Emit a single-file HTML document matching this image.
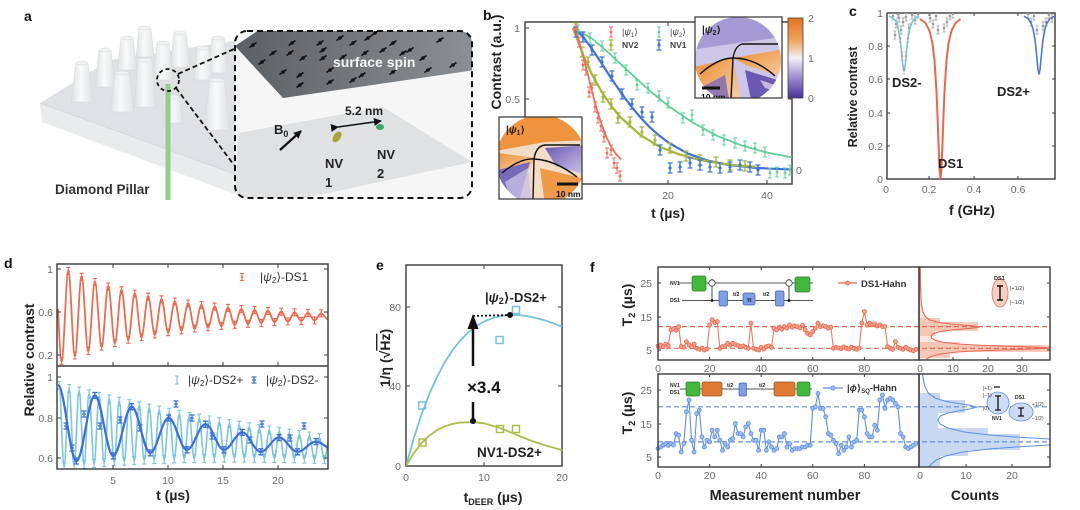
<!DOCTYPE html>
<html><head><meta charset="utf-8"><style>
html,body{margin:0;padding:0;background:#fff;}
svg{display:block;font-family:"Liberation Sans","DejaVu Sans",sans-serif;}
.tk{font-size:10.5px;fill:#6a6a6a;}
.al{font-size:14px;font-weight:bold;fill:#222;}
.pl{font-size:14px;font-weight:bold;fill:#111;}
.ax{fill:none;stroke:#3a3a3a;stroke-width:1.4;}
.ti{fill:none;stroke:#3a3a3a;stroke-width:1;}
</style></head><body>
<svg width="1080" height="510" viewBox="0 0 1080 510" xmlns="http://www.w3.org/2000/svg">
<defs>
<linearGradient id="pg" x1="0" x2="1" y1="0" y2="0"><stop offset="0" stop-color="#dcdfe3"/><stop offset="0.45" stop-color="#f8f9fa"/><stop offset="1" stop-color="#dfe2e6"/></linearGradient>
<linearGradient id="dp" x1="0" x2="1" y1="0" y2="0"><stop offset="0" stop-color="#5c6064"/><stop offset="1" stop-color="#8c9094"/></linearGradient>
<linearGradient id="cbg" x1="0" y1="0" x2="0" y2="1"><stop offset="0" stop-color="#df7417"/><stop offset="0.3" stop-color="#f0aa66"/><stop offset="0.5" stop-color="#f4f0f5"/><stop offset="0.72" stop-color="#a597d5"/><stop offset="1" stop-color="#4a2f98"/></linearGradient>
<linearGradient id="og" x1="0" y1="0" x2="1" y2="1"><stop offset="0" stop-color="#ec8a2e"/><stop offset="1" stop-color="#f7d3ad"/></linearGradient>
<linearGradient id="pu" x1="0" y1="0" x2="1" y2="1"><stop offset="0" stop-color="#6a55b2"/><stop offset="1" stop-color="#d8d2ee"/></linearGradient>
<clipPath id="boxA"><rect x="235" y="31" width="237" height="167" rx="12"/></clipPath>
<clipPath id="c2c"><circle cx="738" cy="60" r="43"/></clipPath>
<clipPath id="c2r"><rect x="695" y="17" width="87" height="81"/></clipPath>
<clipPath id="c1c"><circle cx="541" cy="160" r="45"/></clipPath>
<clipPath id="c1r"><rect x="499" y="117" width="83" height="82"/></clipPath>
<clipPath id="cb"><rect x="525" y="22" width="267" height="162"/></clipPath>
<clipPath id="cc"><rect x="887" y="13" width="168" height="166"/></clipPath>
<clipPath id="cdt"><rect x="57" y="264" width="271" height="102"/></clipPath>
<clipPath id="cdb"><rect x="57" y="366" width="271" height="103"/></clipPath>
<clipPath id="ce"><rect x="406" y="265" width="156" height="201"/></clipPath>
<clipPath id="cft"><rect x="919" y="267" width="131" height="93"/></clipPath>
<clipPath id="cfb"><rect x="919" y="374" width="131" height="93"/></clipPath>
<g id="sp"><line x1="-3.5" y1="2.5" x2="3.5" y2="-2.5" stroke="#111" stroke-width="1.6"/><circle r="1.8" fill="#111"/></g>
<marker id="eR" markerUnits="userSpaceOnUse" markerWidth="10" markerHeight="10" viewBox="-5 -5 10 10" refX="0" refY="0" overflow="visible"><path d="M-2,-3.5H2M0,-3.5V3.5M-2,3.5H2M-1.5,0H1.5" stroke="#ee6a4e" stroke-width="1.1" fill="none"/></marker>
<marker id="eC" markerUnits="userSpaceOnUse" markerWidth="10" markerHeight="10" viewBox="-5 -5 10 10" refX="0" refY="0" overflow="visible"><path d="M-2,-4H2M0,-4V4M-2,4H2" stroke="#79c6de" stroke-width="1.1" fill="none"/></marker>
<marker id="eB" markerUnits="userSpaceOnUse" markerWidth="10" markerHeight="10" viewBox="-5 -5 10 10" refX="0" refY="0" overflow="visible"><path d="M-2.5,-3H2.5M0,-3V3M-2.5,3H2.5M-2,0H2" stroke="#3d6fda" stroke-width="1.3" fill="none"/></marker>
<marker id="bR" markerUnits="userSpaceOnUse" markerWidth="10" markerHeight="14" viewBox="-5 -7 10 14" refX="0" refY="0" overflow="visible"><path d="M-2,-5H2M0,-5V5M-2,5H2" stroke="#ec6f5a" stroke-width="1" fill="none"/><circle r="1.4" fill="#ec6f5a"/></marker>
<marker id="bG" markerUnits="userSpaceOnUse" markerWidth="10" markerHeight="14" viewBox="-5 -7 10 14" refX="0" refY="0" overflow="visible"><path d="M-2,-5H2M0,-5V5M-2,5H2" stroke="#5fd09c" stroke-width="1" fill="none"/><circle r="1.4" fill="#5fd09c"/></marker>
<marker id="bY" markerUnits="userSpaceOnUse" markerWidth="10" markerHeight="14" viewBox="-5 -7 10 14" refX="0" refY="0" overflow="visible"><path d="M-2.5,-5H2.5M0,-5V5M-2.5,5H2.5" stroke="#a4b63a" stroke-width="1.3" fill="none"/><circle r="1.6" fill="#a4b63a"/></marker>
<marker id="bB" markerUnits="userSpaceOnUse" markerWidth="10" markerHeight="14" viewBox="-5 -7 10 14" refX="0" refY="0" overflow="visible"><path d="M-2.5,-5H2.5M0,-5V5M-2.5,5H2.5" stroke="#3f72d4" stroke-width="1.3" fill="none"/><circle r="1.6" fill="#3f72d4"/></marker>
<marker id="gD" markerUnits="userSpaceOnUse" markerWidth="8" markerHeight="12" viewBox="-4 -6 8 12" refX="0" refY="0" overflow="visible"><path d="M-1.5,-4H1.5M0,-4V4M-1.5,4H1.5" stroke="#aaa" stroke-width="0.9" fill="none"/><circle r="1.3" fill="#9a9a9a"/></marker>
<marker id="fR" markerUnits="userSpaceOnUse" markerWidth="6" markerHeight="6" viewBox="-3 -3 6 6" refX="0" refY="0" overflow="visible"><circle r="2" fill="#f4a08a" stroke="#e8674f" stroke-width="0.8"/></marker>
<marker id="fB" markerUnits="userSpaceOnUse" markerWidth="6" markerHeight="6" viewBox="-3 -3 6 6" refX="0" refY="0" overflow="visible"><circle r="2" fill="#9dbcf0" stroke="#5d8fe3" stroke-width="0.8"/></marker>
<marker id="ah" markerUnits="userSpaceOnUse" markerWidth="8" markerHeight="8" viewBox="0 0 8 8" refX="7" refY="4" orient="auto"><path d="M0,0L8,4L0,8Z" fill="#111"/></marker>
</defs>

<!-- ================= PANEL A ================= -->
<text x="24" y="21" class="pl">a</text>
<polygon points="40,103 110,60 240,40 240,176" fill="#dfe1e4"/>
<polygon points="40,103 240,176 240,196 42,122" fill="#eaebed"/>
<line x1="40" y1="103" x2="240" y2="176" stroke="#d2d5d8" stroke-width="0.8"/>
<g stroke="#d6d9dc" stroke-width="0.5">
<path d="M139,28L151,28L154,57L136,57Z" fill="url(#pg)"/><ellipse cx="145" cy="28" rx="6" ry="2" fill="#f1f2f4"/>
<path d="M174,33L186,33L190,67L170,67Z" fill="url(#pg)"/><ellipse cx="180" cy="33" rx="6" ry="2" fill="#f1f2f4"/>
<path d="M121,38L133,38L137,70L117,70Z" fill="url(#pg)"/><ellipse cx="127" cy="38" rx="6" ry="2" fill="#f1f2f4"/>
<path d="M212,38L224,38L228,73L208,73Z" fill="url(#pg)"/><ellipse cx="218" cy="38" rx="6" ry="2" fill="#f1f2f4"/>
<path d="M157,43L169,43L173,80L153,80Z" fill="url(#pg)"/><ellipse cx="163" cy="43" rx="6" ry="2" fill="#f1f2f4"/>
<path d="M197,48L209,48L213,80L193,80Z" fill="url(#pg)"/><ellipse cx="203" cy="48" rx="6" ry="2" fill="#f1f2f4"/>
<path d="M99,50L111,50L115,87L95,87Z" fill="url(#pg)"/><ellipse cx="105" cy="50" rx="6" ry="2" fill="#f1f2f4"/>
<path d="M76,63L88,63L93,102L71,102Z" fill="url(#pg)"/><ellipse cx="82" cy="63" rx="6" ry="2" fill="#f1f2f4"/>
<path d="M167,97L179,97L183,123L163,123Z" fill="url(#pg)"/><ellipse cx="173" cy="97" rx="6" ry="2" fill="#f1f2f4"/>
<path d="M138,60L152,60L156,107L134,107Z" fill="url(#pg)"/><ellipse cx="145" cy="60" rx="7" ry="2" fill="#f1f2f4"/>
<path d="M115,73L129,73L134,112L110,112Z" fill="url(#pg)"/><ellipse cx="122" cy="73" rx="7" ry="2" fill="#f1f2f4"/>
<path d="M210,80L224,80L230,130L204,130Z" fill="url(#pg)"/><ellipse cx="217" cy="80" rx="7" ry="2" fill="#f1f2f4"/>
</g>
<line x1="168" y1="84" x2="168" y2="200" stroke="#8fcf86" stroke-width="5"/>
<circle cx="168" cy="80" r="11" fill="none" stroke="#111" stroke-width="1.8" stroke-dasharray="4,3"/>
<line x1="178" y1="74" x2="234" y2="49" stroke="#111" stroke-width="1.8" stroke-dasharray="5,3"/>
<line x1="176" y1="88" x2="234" y2="165" stroke="#111" stroke-width="1.8" stroke-dasharray="5,3"/>
<text x="55" y="194" font-size="13.5" font-weight="bold" fill="#333">Diamond Pillar</text>

<rect x="235" y="31" width="237" height="167" rx="12" fill="#f6f6f6"/>
<g clip-path="url(#boxA)">
<polygon points="238,133 383,107 472,162 300,199 235,199" fill="#e0e1e2"/>
<polygon points="235,46 262,28 475,28 475,70 283,98" fill="url(#dp)"/>
</g>
<use href="#sp" x="292" y="43"/><use href="#sp" x="320" y="43"/><use href="#sp" x="340" y="38"/><use href="#sp" x="353" y="43"/><use href="#sp" x="368" y="38"/><use href="#sp" x="375" y="33"/><use href="#sp" x="393" y="43"/><use href="#sp" x="273" y="53"/><use href="#sp" x="290" y="53"/><use href="#sp" x="303" y="58"/><use href="#sp" x="323" y="50"/><use href="#sp" x="323" y="58"/><use href="#sp" x="343" y="57"/><use href="#sp" x="365" y="53"/><use href="#sp" x="383" y="50"/><use href="#sp" x="403" y="53"/><use href="#sp" x="410" y="50"/><use href="#sp" x="423" y="58"/><use href="#sp" x="428" y="70"/><use href="#sp" x="453" y="65"/><use href="#sp" x="253" y="45"/><use href="#sp" x="283" y="72"/><use href="#sp" x="300" y="75"/><use href="#sp" x="330" y="70"/><use href="#sp" x="362" y="75"/><use href="#sp" x="393" y="72"/><use href="#sp" x="300" y="85"/><use href="#sp" x="330" y="82"/><use href="#sp" x="353" y="80"/><use href="#sp" x="440" y="40"/><use href="#sp" x="262" y="62"/>
<text x="333" y="67" font-size="14" font-weight="bold" fill="#f4f4f4">surface spin</text>
<rect x="235" y="31" width="237" height="167" rx="12" fill="none" stroke="#111" stroke-width="2" stroke-dasharray="6,4"/>
<text x="345" y="115" font-size="12" font-weight="bold" fill="#222">5.2 nm</text>
<line x1="338" y1="127" x2="381" y2="121" stroke="#111" stroke-width="1.6" marker-end="url(#ah)" marker-start="url(#ah)"/>
<text x="274" y="134" font-size="13" font-weight="bold" fill="#222">B<tspan font-size="9" dy="3">0</tspan></text>
<line x1="280" y1="150" x2="301" y2="131" stroke="#111" stroke-width="2.2" marker-end="url(#ah)"/>
<ellipse cx="337" cy="137" rx="3.5" ry="6" fill="#a6a337" transform="rotate(35 337 137)"/>
<ellipse cx="380" cy="127" rx="4" ry="3" fill="#3aaa62"/>
<text x="325" y="168" font-size="13" font-weight="bold" fill="#222">NV</text>
<text x="325" y="187" font-size="13" font-weight="bold" fill="#222">1</text>
<text x="377" y="159" font-size="13" font-weight="bold" fill="#222">NV</text>
<text x="377" y="178" font-size="13" font-weight="bold" fill="#222">2</text>

<!-- ================= PANEL B ================= -->
<text x="483" y="20" class="pl">b</text>
<rect x="525" y="22" width="267" height="162" class="ax"/>
<path class="ti" d="M525,28h4M525,99h4M525,170h4M792,28h-4M792,99h-4M792,170h-4M668,184v-4M767,184v-4M668,22v4M767,22v4"/>
<text x="520" y="32" class="tk" text-anchor="end">1</text>
<text x="520" y="103" class="tk" text-anchor="end">0.5</text>
<text x="796" y="174" class="tk">0</text>
<text x="668" y="199" class="tk" text-anchor="middle">20</text>
<text x="767" y="199" class="tk" text-anchor="middle">40</text>
<text transform="translate(501,62) rotate(-90)" class="al" text-anchor="middle">Contrast (a.u.)</text>
<text x="668" y="218" class="al" text-anchor="middle">t (µs)</text>
<g clip-path="url(#cb)" fill="none">
<polyline points="573,28 592.2,38.6 611.4,55.3 630.6,73.3 649.8,90.8 669,106.4 693,122.7 717,135.8 741,145.2 765,152.1 792.8,157.6" stroke="#5fd09c" stroke-width="1.8"/>
<polyline points="573,28 582.6,36.1 592.2,49.2 601.8,63.6 611.4,78.6 621,92.6 630.6,105.7 640.2,117.2 649.8,127.3 659.4,135.8 669,143 688.2,153.7 707.4,160.5 726.6,164.7 755.4,167.9 790,169.5" stroke="#3f72d4" stroke-width="2.2"/>
<polyline points="573,28 582.6,53.7 592.2,74.9 601.8,92 611.4,106.2 621,117.7 640.2,134.9 659.4,146.6 678.6,154.2 697.8,159.5 717,162.9 736.2,165.3 755.4,166.9" stroke="#a4b63a" stroke-width="2.2"/>
<polyline points="573,28 577.8,36.9 582.6,53.5 587.4,72.7 592.2,92.2 597,109.8 601.8,125 606.6,137.4 611.4,147 616.2,154.2 621,159.5" stroke="#ec6f5a" stroke-width="1.8"/>
<path d="M578,30L590,38L602,46L615,58L626,70L637,85L648,88L659,96L668,103L683,118L692,115L703,130L713,135L724,140L735,143L745,146L755,148L765,152L770,173L777,172L785,173L790,170" stroke="none" marker-start="url(#bG)" marker-mid="url(#bG)" marker-end="url(#bG)"/>
<path d="M576,28L582,52L588,62L595,80L603,97L611,104L618,118L630,122L642,132L655,140L670,148L686,156L700,160L716,162L730,165L745,166" stroke="none" marker-start="url(#bY)" marker-mid="url(#bY)" marker-end="url(#bY)"/>
<path d="M576,32L583,37L592,50L602,62L612,76L622,94L632,104L642,112L652,117L660,150L670,168L680,167L690,163L700,165L710,167L720,168L730,167L740,165L750,167L758,170" stroke="none" marker-start="url(#bB)" marker-mid="url(#bB)" marker-end="url(#bB)"/>
<path d="M576,30L579,42L583,65L586,70L589,92L592,88L595,107L598,118L601,126L604,137L607,153L611,150L614,163L617,168L620,176" stroke="none" marker-start="url(#bR)" marker-mid="url(#bR)" marker-end="url(#bR)"/>
</g>
<!-- legend b -->
<path d="M611,32h0" stroke="none" marker-start="url(#bR)"/><text x="622" y="35" font-size="9" fill="#444">|<tspan font-style="italic">ψ</tspan><tspan font-size="6" dy="2">1</tspan><tspan dy="-2">⟩</tspan></text>
<path d="M659,32h0" stroke="none" marker-start="url(#bG)"/><text x="670" y="35" font-size="9" fill="#444">|<tspan font-style="italic">ψ</tspan><tspan font-size="6" dy="2">2</tspan><tspan dy="-2">⟩</tspan></text>
<path d="M611,45h0" stroke="none" marker-start="url(#bY)"/><text x="622" y="48" font-size="8.5" font-weight="bold" fill="#444">NV2</text>
<path d="M659,45h0" stroke="none" marker-start="url(#bB)"/><text x="670" y="48" font-size="8.5" font-weight="bold" fill="#444">NV1</text>
<!-- inset psi2 -->
<rect x="695" y="17" width="87" height="81" fill="#fff"/>
<g clip-path="url(#c2r)"><g clip-path="url(#c2c)">
<rect x="690" y="10" width="100" height="95" fill="#cdc6e6"/>
<polygon points="690,15 790,15 790,36 745,42 690,50" fill="#9b8fd0" opacity="0.8"/>
<polygon points="733,58 790,48 790,80 748,66" fill="url(#og)"/>
<polygon points="690,68 733,58 742,105 690,105" fill="url(#og)"/>
<polygon points="700,88 725,75 730,105 705,105" fill="#7a66bb" opacity="0.8"/>
<polygon points="745,70 790,84 790,105 752,105" fill="#6b58b3"/>
<polygon points="760,80 790,90 790,95 765,88" fill="#e9e4f4" opacity="0.7"/>
</g>
<path d="M700,74Q718,58 733,58Q755,58 775,76M733,58Q735,46 742,44L778,44M733,58L731,98" fill="none" stroke="#111" stroke-width="1.4"/>
<line x1="702" y1="88" x2="720" y2="88" stroke="#111" stroke-width="3"/>
<text x="701" y="100" font-size="8.5" font-weight="bold" fill="#111">10 nm</text>
</g>
<text x="702" y="33" font-size="10" font-weight="bold" fill="#222">|<tspan font-style="italic">ψ</tspan><tspan font-size="7" dy="2">2</tspan><tspan dy="-2">⟩</tspan></text>
<rect x="695" y="17" width="87" height="81" fill="none" stroke="#333" stroke-width="1.2"/>
<rect x="788" y="18" width="15" height="80" fill="url(#cbg)" stroke="#444" stroke-width="0.8"/>
<text x="808" y="22" class="tk">2</text><text x="808" y="62" class="tk">1</text><text x="808" y="102" class="tk">0</text>
<!-- inset psi1 -->
<rect x="499" y="117" width="83" height="82" fill="#fff"/>
<g clip-path="url(#c1r)"><g clip-path="url(#c1c)">
<rect x="490" y="110" width="100" height="95" fill="#f3dcc6"/>
<polygon points="490,110 590,110 590,140 545,142 490,152" fill="#ee943e"/>
<polygon points="490,152 536,158 528,170 490,172" fill="url(#og)"/>
<polygon points="545,148 590,145 590,176 556,166" fill="url(#pu)"/>
<polygon points="490,172 530,162 518,205 490,205" fill="#7a68bb"/>
<polygon points="505,182 528,168 532,205 512,205" fill="#c8bfe5" opacity="0.8"/>
<polygon points="540,168 590,180 590,205 545,205" fill="#ef9a48"/>
</g>
<path d="M502,173Q520,158 534,159Q555,160 577,177M534,159Q536,146 545,145L580,145M534,159L533,199" fill="none" stroke="#111" stroke-width="1.4"/>
<line x1="557" y1="184" x2="578" y2="184" stroke="#111" stroke-width="3"/>
<text x="556" y="197" font-size="8.5" font-weight="bold" fill="#111">10 nm</text>
</g>
<text x="506" y="133" font-size="10" font-weight="bold" fill="#222">|<tspan font-style="italic">ψ</tspan><tspan font-size="7" dy="2">1</tspan><tspan dy="-2">⟩</tspan></text>
<rect x="499" y="117" width="83" height="82" fill="none" stroke="#333" stroke-width="1.2"/>

<!-- ================= PANEL C ================= -->
<text x="849" y="16" class="pl">c</text>
<rect x="887" y="13" width="168" height="166" class="ax"/>
<path class="ti" d="M887,46h3M887,79h3M887,113h3M887,146h3M1055,46h-3M1055,79h-3M1055,113h-3M1055,146h-3M929,179v-3M974,179v-3M1018,179v-3M929,13v3M974,13v3M1018,13v3"/>
<text x="883" y="17" class="tk" text-anchor="end">1</text>
<text x="883" y="50" class="tk" text-anchor="end">0.8</text>
<text x="883" y="83" class="tk" text-anchor="end">0.6</text>
<text x="883" y="117" class="tk" text-anchor="end">0.4</text>
<text x="883" y="150" class="tk" text-anchor="end">0.2</text>
<text x="883" y="183" class="tk" text-anchor="end">0</text>
<text x="886" y="193" class="tk" text-anchor="middle">0</text>
<text x="929" y="193" class="tk" text-anchor="middle">0.2</text>
<text x="974" y="193" class="tk" text-anchor="middle">0.4</text>
<text x="1018" y="193" class="tk" text-anchor="middle">0.6</text>
<text transform="translate(857,97) rotate(-90)" font-size="12.5" font-weight="bold" fill="#222" text-anchor="middle">Relative contrast</text>
<text x="972" y="215" class="al" text-anchor="middle">f (GHz)</text>
<g clip-path="url(#cc)" fill="none">
<path d="M893,16L896,24L899,18L901,30L903,22L906,17L909,28L912,15L915,20L918,14L895,35L898,14L930,18L933,24L936,16L947,22L950,16L953,14L944,28L938,30L1028,14L1031,22L1034,16L1046,22L1049,15L1052,18L1037,30L1043,26" stroke="none" marker-start="url(#gD)" marker-mid="url(#gD)" marker-end="url(#gD)"/>
<polyline points="889,16 893,18.3 897,22.3 898,27.8 900,38.2 901,46.5 902,56.8 903,66.8 904,71.1 905,66.8 906,56.8 907,46.5 908,38.2 910,27.8 912,22.3 915,18.3 919,16" stroke="#7fc3d4" stroke-width="1.6"/>
<polyline points="920,19 925.5,23 929.5,30.8 932.5,43.5 934.5,60.5 936.5,91.7 937.5,115.3 938.5,143 939.5,168.2 940.5,179 941.5,168.2 942.5,143 943.5,115.3 944.5,91.7 946.5,60.5 948.5,43.5 951.5,30.8 955.5,23 960.5,19" stroke="#e8674f" stroke-width="2"/>
<polyline points="1024,16.2 1028,18.6 1031,23 1033,28.6 1035,39.7 1036,48.4 1037,59.3 1038,69.8 1039,74.4 1040,69.8 1041,59.3 1042,48.4 1043,39.7 1045,28.6 1047,23 1050,18.6 1054,16.2" stroke="#4b78d8" stroke-width="1.6"/>
<path d="M900,38L902,56L904,70L906,56L908,38" stroke="none" marker-start="url(#gD)" marker-mid="url(#gD)" marker-end="url(#gD)" opacity="0.7"/>
</g>
<text x="892" y="87" font-size="13" font-weight="bold" fill="#222">DS2-</text>
<text x="938" y="168" font-size="13" font-weight="bold" fill="#222">DS1</text>
<text x="997" y="96" font-size="13" font-weight="bold" fill="#222">DS2+</text>

<!-- ================= PANEL D ================= -->
<text x="4" y="268" class="pl">d</text>
<g fill="none" stroke-linejoin="round">
<g clip-path="url(#cdt)">
<path d="M58,309C59,330 60.4,360.9 61.6,360.9C64,360.9 65.9,271 68.3,271S72.5,355.5 74.9,355.5S79.2,276.8 81.6,276.8S85.85,350.8 88.25,350.8S92.5,282 94.9,282S99.2,346.6 101.6,346.6S105.8,286.4 108.2,286.4S112.5,342.9 114.9,342.9S119.1,290.3 121.5,290.3S125.8,339.7 128.2,339.7S132.4,293.7 134.8,293.7S139.1,336.9 141.5,336.9S145.7,296.7 148.1,296.7S152.4,334.4 154.8,334.4S159.1,299.3 161.5,299.3S165.7,332.2 168.1,332.2S172.4,301.6 174.8,301.6S179,330.3 181.4,330.3S185.7,303.5 188.1,303.5S192.3,328.6 194.7,328.6S199,305.1 201.4,305.1S205.6,327.2 208,327.2S212.3,306.6 214.7,306.6S219,325.9 221.4,325.9S225.6,307.9 228,307.9S232.3,324.8 234.7,324.8S238.9,309.1 241.3,309.1S245.6,323.8 248,323.8S252.2,310.1 254.6,310.1S258.9,322.9 261.3,322.9S265.5,310.9 267.9,310.9S272.2,322.1 274.6,322.1S278.8,311.7 281.2,311.7S285.5,321.5 287.9,321.5S292.2,312.3 294.6,312.3S298.8,320.9 301.2,320.9S305.5,312.9 307.9,312.9S312.1,320.4 314.5,320.4S318.8,313.4 321.2,313.4S326,320 328.6,319.8" stroke="#ee6a4e" stroke-width="1.8" marker-mid="url(#eR)"/>
</g>
<g clip-path="url(#cdb)">
<path d="M58,386L59.1,385.5C60.9,385.5 62.3,466.5 64.1,466.5S67.3,388.5 69.1,388.5S72.3,465.4 74.1,465.4S77.3,391.1 79.1,391.1S82.3,464.4 84.1,464.4S87.3,393.8 89.1,393.8S92.3,463.4 94.1,463.4S97.3,396.4 99.1,396.4S102.3,462.6 104.1,462.6S107.4,398.9 109.2,398.9S112.4,461.9 114.2,461.9S117.4,401.3 119.2,401.3S122.4,461.2 124.2,461.2S127.4,403.7 129.2,403.7S132.4,460.6 134.2,460.6S137.4,405.9 139.2,405.9S142.4,460.1 144.2,460.1S147.4,408.1 149.2,408.1S152.4,459.6 154.2,459.6S157.4,410.2 159.2,410.2S162.4,459.3 164.2,459.3S167.4,412.3 169.2,412.3S172.4,458.9 174.2,458.9S177.4,414.3 179.2,414.3S182.4,458.7 184.2,458.7S187.4,416.3 189.2,416.3S192.4,458.5 194.2,458.5S197.4,418.1 199.2,418.1S202.4,458.3 204.2,458.3S207.5,420 209.3,420S212.5,458.2 214.3,458.2S217.5,421.8 219.3,421.8S222.5,458.1 224.3,458.1S227.5,423.6 229.3,423.6S232.5,458.1 234.3,458.1S237.5,425.3 239.3,425.3S242.5,458.1 244.3,458.1S247.5,426.9 249.3,426.9S252.5,458.2 254.3,458.2S257.5,428.6 259.3,428.6S262.5,458.3 264.3,458.3S267.5,430.1 269.3,430.1S272.5,458.4 274.3,458.4S277.5,431.7 279.3,431.7S282.5,458.6 284.3,458.6S287.5,433.2 289.3,433.2S292.5,458.8 294.3,458.8S297.5,434.7 299.3,434.7S302.5,459.1 304.3,459.1S307.6,436.1 309.4,436.1S312.6,459.3 314.4,459.3S317.6,437.6 319.4,437.6S322.6,459.6 324.4,459.6S327.6,438.5 329.4,438.5" stroke="#79c6de" stroke-width="1.6" marker-mid="url(#eC)"/>
<path d="M58,385.2C64.7,385.2 69.7,461 76.4,461S88.15,395.5 94.85,395.5S106.6,455.9 113.3,455.9S125,406.7 131.7,406.7S143.5,452.9 150.2,452.9S161.9,418 168.6,418S180.3,449.8 187,449.8S198.7,424.2 205.4,424.2S217.2,449.8 223.9,449.8S235.6,432.4 242.3,432.4S254,451.8 260.7,451.8S272.4,437.5 279.1,437.5S290.9,451.8 297.6,451.8S309.3,441.6 316,441.6S326,449 332,449" stroke="#3d6fda" stroke-width="2.2" marker-mid="url(#eB)"/>
<path d="M66,426L72,448L84,414L100,426L120,420L140,428L176,404L192,418L212,436L250,440L262,424L290,438L304,426" stroke="none" marker-start="url(#eB)" marker-mid="url(#eB)" marker-end="url(#eB)"/>
</g>
</g>
<rect x="57" y="264" width="271" height="205" class="ax"/>
<line x1="57" y1="366" x2="328" y2="366" stroke="#3a3a3a" stroke-width="1.6"/>
<path class="ti" d="M57,269h4M57,312h4M57,355h4M328,269h-4M328,312h-4M328,355h-4M57,377h4M57,418h4M57,458h4M328,377h-4M328,418h-4M328,458h-4M113,469v-4M168,469v-4M223,469v-4M278,469v-4M113,264v4M168,264v4M223,264v4M278,264v4M113,366v-4M168,366v-4M223,366v-4M278,366v-4"/>
<text x="53" y="273" class="tk" text-anchor="end">1</text>
<text x="53" y="316" class="tk" text-anchor="end">0.6</text>
<text x="53" y="359" class="tk" text-anchor="end">0.2</text>
<text x="53" y="381" class="tk" text-anchor="end">1</text>
<text x="53" y="422" class="tk" text-anchor="end">0.8</text>
<text x="53" y="462" class="tk" text-anchor="end">0.6</text>
<text x="113" y="484" class="tk" text-anchor="middle">5</text>
<text x="168" y="484" class="tk" text-anchor="middle">10</text>
<text x="223" y="484" class="tk" text-anchor="middle">15</text>
<text x="278" y="484" class="tk" text-anchor="middle">20</text>
<text transform="translate(34,360) rotate(-90)" class="al" text-anchor="middle">Relative contrast</text>
<text x="173" y="500" class="al" text-anchor="middle">t (µs)</text>
<path d="M242,277h0" marker-start="url(#eR)"/>
<text x="260" y="281" font-size="12" fill="#333">|<tspan font-style="italic">ψ</tspan><tspan font-size="8" dy="2">2</tspan><tspan dy="-2">⟩-DS1</tspan></text>
<path d="M177,380h0" marker-start="url(#eC)"/>
<text x="188" y="384" font-size="12" fill="#333">|<tspan font-style="italic">ψ</tspan><tspan font-size="8" dy="2">2</tspan><tspan dy="-2">⟩-DS2+</tspan></text>
<path d="M254,380h0" marker-start="url(#eB)"/>
<text x="266" y="384" font-size="12" fill="#333">|<tspan font-style="italic">ψ</tspan><tspan font-size="8" dy="2">2</tspan><tspan dy="-2">⟩-DS2-</tspan></text>

<!-- ================= PANEL E ================= -->
<text x="376" y="270" class="pl">e</text>
<rect x="406" y="265" width="156" height="201" class="ax"/>
<path class="ti" d="M406,307h4M406,386h4M562,307h-4M562,386h-4M484,466v-4M484,265v4"/>
<text x="401" y="311" class="tk" text-anchor="end">80</text>
<text x="401" y="390" class="tk" text-anchor="end">40</text>
<text x="401" y="470" class="tk" text-anchor="end">0</text>
<text x="406" y="481" class="tk" text-anchor="middle">0</text>
<text x="484" y="481" class="tk" text-anchor="middle">10</text>
<text x="562" y="481" class="tk" text-anchor="middle">20</text>
<text transform="translate(390,358) rotate(-90)" class="al" text-anchor="middle">1/η (√<tspan text-decoration="overline">Hz</tspan>)</text>
<text x="493" y="502" class="al" text-anchor="middle">t<tspan font-size="9" dy="3">DEER</tspan><tspan dy="-3"> (µs)</tspan></text>
<g clip-path="url(#ce)" fill="none">
<polyline points="406,466 413.8,438.1 421.6,414.2 429.4,393.8 437.2,376.5 445,362 452.8,349.9 460.6,340.1 468.4,332.3 476.2,326.1 484,321.5 491.8,318.3 499.6,316.2 507.4,315.1 515.2,315 523,315.5 530.8,316.8 538.6,318.6 546.4,320.9 554.2,323.7 562,326.7" stroke="#74c3d8" stroke-width="1.8"/>
<polyline points="406,466 413.8,453.1 421.6,443.1 429.4,435.6 437.2,430 445,426.3 452.8,423.9 460.6,422.5 472.3,422.1 484,423.3 499.6,427.8 515.2,434.2 530.8,440.6 546.4,445.7 562,450.1" stroke="#aabd4a" stroke-width="1.8"/>
<rect x="418.6" y="402" width="7" height="7" stroke="#74c3d8" stroke-width="1.5"/>
<rect x="496" y="336.5" width="7" height="7" stroke="#74c3d8" stroke-width="1.5"/>
<rect x="512.5" y="306.5" width="7" height="7" stroke="#74c3d8" stroke-width="1.5"/>
<rect x="419" y="439" width="7" height="7" stroke="#aabd4a" stroke-width="1.5"/>
<rect x="496.5" y="425.5" width="7" height="7" stroke="#aabd4a" stroke-width="1.5"/>
<rect x="512.5" y="425.5" width="7" height="7" stroke="#aabd4a" stroke-width="1.5"/>
</g>
<line x1="473" y1="316" x2="510" y2="315" stroke="#111" stroke-width="1.8" stroke-dasharray="2,2"/>
<line x1="473" y1="421" x2="473" y2="402" stroke="#111" stroke-width="2.5"/>
<line x1="473" y1="366" x2="473" y2="326" stroke="#111" stroke-width="2.5"/>
<polygon points="473,314 467.5,329 478.5,329" fill="#111"/>
<circle cx="473" cy="421" r="3" fill="#111"/>
<circle cx="510" cy="315" r="3" fill="#111"/>
<text x="467" y="393" font-size="17" font-weight="bold" fill="#111">×3.4</text>
<text x="485" y="302" font-size="13" font-weight="bold" fill="#222">|<tspan font-style="italic">ψ</tspan><tspan font-size="9" dy="2">2</tspan><tspan dy="-2">⟩-DS2+</tspan></text>
<text x="477" y="457" font-size="13.5" font-weight="bold" fill="#222">NV1-DS2+</text>

<!-- ================= PANEL F ================= -->
<text x="590" y="272" class="pl">f</text>
<!-- hist top -->
<g clip-path="url(#cft)">
<g fill="#f7c4b2" opacity="0.85">
<rect x="920" y="318" width="20" height="4"/><rect x="920" y="322" width="58" height="9"/><rect x="920" y="331" width="15" height="5"/>
<rect x="920" y="342" width="40" height="3"/><rect x="920" y="345" width="130" height="7"/><rect x="920" y="352" width="30" height="6"/>
</g>
<polygon points="920,266 920.3,266 920.4,280 920.8,295 921.5,305 922.9,312 925.6,317 930,320 936.5,322 950.4,324 961.7,325 973.9,326 979.8,327 974.2,328 962.4,329 951.5,330 938.4,332 933,334 931.2,336 931.6,338 934.5,340 941.4,342 958.3,344 974.9,345 1000.7,346 1033.4,347 1051,348 1033,349 1001,350 974.5,351 957.6,352 940.6,354 932.2,356 928.1,358 925.8,360 920,360" fill="#f6b9a3" opacity="0.35"/>
<polyline points="920.3,266 920.4,280 920.8,295 921.5,305 922.9,312 925.6,317 930,320 936.5,322 950.4,324 961.7,325 973.9,326 979.8,327 974.2,328 962.4,329 951.5,330 938.4,332 933,334 931.2,336 931.6,338 934.5,340 941.4,342 958.3,344 974.9,345 1000.7,346 1033.4,347 1051,348 1033,349 1001,350 974.5,351 957.6,352 940.6,354 932.2,356 928.1,358 925.8,360" fill="none" stroke="#e8674f" stroke-width="1.1"/>
</g>
<g clip-path="url(#cfb)">
<g fill="#c4d5f3" opacity="0.9">
<rect x="920" y="393" width="20" height="7"/><rect x="920" y="400" width="45" height="13"/><rect x="920" y="413" width="18" height="15"/>
<rect x="920" y="428" width="68" height="6"/><rect x="920" y="434" width="100" height="16"/><rect x="920" y="450" width="48" height="6"/><rect x="920" y="456" width="20" height="11"/>
</g>
<polyline points="922.4,374 924.3,385 928.2,393 935.2,398 944.7,401 955.4,403 968.9,405 976.6,407 969.9,409 957.5,411 947.9,413 940.4,416 937.8,420 940.1,424 947.6,428 964.3,432 989.4,435 1015.9,437 1049.4,439 1081,442 1049,445 1016,447 989,449 963,452 945.5,456 936.4,460 931.4,464 929,467" fill="none" stroke="#5d8fe3" stroke-width="1.1"/>
</g>
<!-- dashed levels -->
<line x1="658" y1="326.6" x2="1050" y2="326.6" stroke="#e8674f" stroke-width="1.2" stroke-dasharray="5,3"/>
<line x1="658" y1="348.3" x2="1050" y2="348.3" stroke="#e8674f" stroke-width="1.2" stroke-dasharray="5,3"/>
<line x1="658" y1="406.8" x2="1050" y2="406.8" stroke="#5d8fe3" stroke-width="1.2" stroke-dasharray="5,3"/>
<line x1="658" y1="441.9" x2="1050" y2="441.9" stroke="#5d8fe3" stroke-width="1.2" stroke-dasharray="5,3"/>
<!-- series -->
<polyline fill="none" stroke="#ec7a60" stroke-width="1.1" marker-start="url(#fR)" marker-mid="url(#fR)" marker-end="url(#fR)" points="658,346.0 660.6,345.0 663.2,346.7 665.7,344.0 668.3,345.6 670.9,329.9 673.5,328.9 676.1,330.2 678.6,326.6 681.2,346.7 683.8,347.3 686.4,341.6 689,345.0 691.5,346.7 694.1,344.0 696.7,348.3 699.3,349.3 701.9,348.0 704.4,350.0 707,349.0 709.6,324.9 712.2,319.8 714.8,322.5 717.3,321.5 719.9,348.3 722.5,346.7 725.1,346.0 727.7,343.3 730.2,345.0 732.8,343.3 735.4,344.6 738,345.6 740.6,346.7 743.1,346.0 745.7,347.3 748.3,348.3 750.9,323.2 753.5,348.3 756,349.3 758.6,350.0 761.2,347.3 763.8,349.0 766.4,346.7 768.9,346.0 771.5,347.3 774.1,328.2 776.7,329.9 779.3,327.2 781.8,329.2 784.4,326.6 787,328.2 789.6,324.9 792.2,327.2 794.7,325.9 797.3,326.6 799.9,327.9 802.5,325.5 805.1,329.9 807.6,333.3 810.2,334.9 812.8,331.6 815.4,328.2 818,323.2 820.5,326.6 823.1,325.9 825.7,326.6 828.3,328.2 830.9,327.2 833.4,348.3 836,347.3 838.6,348.0 841.2,348.7 843.8,347.0 846.3,348.3 848.9,349.0 851.5,347.3 854.1,348.3 856.7,349.3 859.2,348.0 861.8,323.2 864.4,311.5 867,324.9 869.6,323.2 872.1,324.9 874.7,323.9 877.3,325.9 879.9,324.9 882.5,326.6 885,326.6 887.6,346.7 890.2,348.3 892.8,349.3 895.4,341.6 897.9,347.3 900.5,348.3 903.1,349.3 905.7,347.3 908.3,349.0 910.8,350.0 913.4,350.7 916,349.3"/>
<polyline fill="none" stroke="#5d8fe3" stroke-width="1.1" marker-start="url(#fB)" marker-mid="url(#fB)" marker-end="url(#fB)" points="658,448.6 660.6,447.0 663.2,445.3 665.7,443.6 668.3,445.3 670.9,443.6 673.5,445.0 676.1,433.6 678.6,435.2 681.2,452.0 683.8,443.6 686.4,411.8 689,400.0 691.5,440.3 694.1,452.0 696.7,413.5 699.3,410.1 701.9,436.9 704.4,447.0 707,440.3 709.6,441.9 712.2,430.2 714.8,436.9 717.3,430.2 719.9,440.3 722.5,450.3 725.1,443.6 727.7,447.0 730.2,440.3 732.8,438.6 735.4,423.5 738,433.6 740.6,433.6 743.1,436.9 745.7,426.9 748.3,423.5 750.9,433.6 753.5,440.3 756,440.3 758.6,450.3 761.2,430.2 763.8,430.2 766.4,450.3 768.9,441.9 771.5,447.0 774.1,450.3 776.7,448.6 779.3,436.9 781.8,436.9 784.4,433.6 787,447.0 789.6,443.6 792.2,450.3 794.7,448.6 797.3,448.6 799.9,448.6 802.5,447.0 805.1,447.0 807.6,445.3 810.2,445.3 812.8,408.4 815.4,406.8 818,393.4 820.5,408.4 823.1,408.4 825.7,416.8 828.3,433.6 830.9,435.2 833.4,440.3 836,443.6 838.6,453.7 841.2,445.3 843.8,450.3 846.3,447.0 848.9,436.9 851.5,447.0 854.1,441.9 856.7,440.3 859.2,410.1 861.8,410.1 864.4,416.8 867,433.6 869.6,436.9 872.1,436.9 874.7,425.2 877.3,430.2 879.9,400.0 882.5,395.0 885,408.4 887.6,400.0 890.2,398.4 892.8,400.0 895.4,403.4 897.9,406.8 900.5,433.6 903.1,436.9 905.7,447.0 908.3,448.6 910.8,447.0 913.4,445.3 916,443.6"/>
<!-- axes f -->
<rect x="658" y="267" width="261" height="93" class="ax"/>
<rect x="658" y="374" width="261" height="93" class="ax"/>
<rect x="919" y="267" width="131" height="93" class="ax"/>
<rect x="919" y="374" width="131" height="93" class="ax"/>
<path class="ti" d="M658,283h3M658,317h3M658,350h3M1050,283h-3M1050,317h-3M1050,350h-3M658,390h3M658,424h3M658,457h3M1050,390h-3M1050,424h-3M1050,457h-3M709.6,360v-3M761.2,360v-3M812.8,360v-3M864.4,360v-3M709.6,267v3M761.2,267v3M812.8,267v3M864.4,267v3M709.6,467v-3M761.2,467v-3M812.8,467v-3M864.4,467v-3M709.6,374v3M761.2,374v3M812.8,374v3M864.4,374v3M953,360v-3M988,360v-3M1022,360v-3M966,467v-3M1012,467v-3"/>
<text x="652" y="287" class="tk" text-anchor="end">25</text>
<text x="652" y="321" class="tk" text-anchor="end">15</text>
<text x="652" y="354" class="tk" text-anchor="end">5</text>
<text x="652" y="394" class="tk" text-anchor="end">25</text>
<text x="652" y="428" class="tk" text-anchor="end">15</text>
<text x="652" y="461" class="tk" text-anchor="end">5</text>
<g class="tk" text-anchor="middle">
<text x="658" y="372">0</text><text x="709.6" y="372">20</text><text x="761.2" y="372">40</text><text x="812.8" y="372">60</text><text x="864.4" y="372">80</text>
<text x="920" y="372">0</text><text x="953" y="372">10</text><text x="988" y="372">20</text><text x="1022" y="372">30</text>
<text x="658" y="479">0</text><text x="709.6" y="479">20</text><text x="761.2" y="479">40</text><text x="812.8" y="479">60</text><text x="864.4" y="479">80</text>
<text x="920" y="479">0</text><text x="966" y="479">10</text><text x="1012" y="479">20</text>
</g>
<text transform="translate(632,305) rotate(-90)" class="al" text-anchor="middle">T<tspan font-size="9" dy="3">2</tspan><tspan dy="-3"> (µs)</tspan></text>
<text transform="translate(632,413) rotate(-90)" class="al" text-anchor="middle">T<tspan font-size="9" dy="3">2</tspan><tspan dy="-3"> (µs)</tspan></text>
<text x="785" y="500" font-size="14.5" font-weight="bold" fill="#222" text-anchor="middle">Measurement number</text>
<text x="975" y="500" class="al" text-anchor="middle">Counts</text>
<!-- circuit top -->
<g font-size="5" font-weight="bold" fill="#222">
<line x1="678" y1="283" x2="813" y2="283" stroke="#555" stroke-width="0.9"/>
<line x1="682" y1="300.5" x2="813" y2="300.5" stroke="#555" stroke-width="0.9"/>
<text x="670" y="285">NV1</text><text x="670" y="302">DS1</text>
<rect x="692" y="276" width="14" height="15" rx="2" fill="#43b83e" stroke="#2a7a25" stroke-width="0.7"/>
<line x1="712" y1="279" x2="712" y2="300.5" stroke="#333" stroke-width="0.9"/><circle cx="712" cy="283" r="3.2" fill="#fff" stroke="#333" stroke-width="0.8"/><circle cx="712" cy="300.5" r="1.4" fill="#111"/>
<line x1="789" y1="279" x2="789" y2="300.5" stroke="#333" stroke-width="0.9"/><circle cx="789" cy="283" r="3.2" fill="#fff" stroke="#333" stroke-width="0.8"/><circle cx="789" cy="300.5" r="1.4" fill="#111"/>
<rect x="719" y="291" width="8.5" height="15" rx="1.5" fill="#7e9fe6" stroke="#3f5fae" stroke-width="0.7"/>
<rect x="743" y="293" width="12" height="12" rx="2" fill="#7e9fe6" stroke="#3f5fae" stroke-width="0.7"/>
<rect x="775.5" y="291" width="8.5" height="15" rx="1.5" fill="#7e9fe6" stroke="#3f5fae" stroke-width="0.7"/>
<text x="733" y="296" font-size="5.5">t/2</text><text x="763" y="296" font-size="5.5">t/2</text><text x="747" y="302" font-size="6" fill="#123">π</text>
<rect x="795" y="277" width="15" height="15" rx="2" fill="#43b83e" stroke="#2a7a25" stroke-width="0.7"/>
</g>
<line x1="838" y1="283" x2="857" y2="283" stroke="#ec7a60" stroke-width="1.2" marker-mid="url(#fR)"/>
<path d="M838,283L847.5,283L857,283" fill="none" stroke="#ec7a60" stroke-width="1.2" marker-mid="url(#fR)"/>
<text x="861" y="287" font-size="9.5" font-weight="bold" fill="#333">DS1-Hahn</text>
<!-- circuit bottom -->
<g font-size="5" font-weight="bold" fill="#222">
<line x1="680" y1="389" x2="812" y2="389" stroke="#555" stroke-width="0.9"/>
<text x="670" y="387">NV1</text><text x="670" y="394">DS1</text>
<rect x="686" y="382" width="14" height="14" rx="2" fill="#43b83e" stroke="#2a7a25" stroke-width="0.7"/>
<rect x="702" y="382" width="20" height="14" rx="2" fill="#e07a35" stroke="#9a4a15" stroke-width="0.7"/>
<text x="727" y="387" font-size="5.5">t/2</text>
<rect x="739" y="383" width="7.5" height="13" rx="1.5" fill="#7e9fe6" stroke="#3f5fae" stroke-width="0.7"/>
<text x="759" y="387" font-size="5.5">t/2</text>
<rect x="774" y="382" width="21" height="14" rx="2" fill="#e07a35" stroke="#9a4a15" stroke-width="0.7"/>
<rect x="797" y="382" width="13" height="14" rx="2" fill="#43b83e" stroke="#2a7a25" stroke-width="0.7"/>
</g>
<path d="M823,388L833,388L843,388" fill="none" stroke="#5d8fe3" stroke-width="1.2" marker-mid="url(#fB)"/>
<text x="847" y="391" font-size="9.5" font-weight="bold" fill="#333">|<tspan font-style="italic">ϕ</tspan>⟩<tspan font-size="6" dy="2">SQ</tspan><tspan dy="-2">-Hahn</tspan></text>
<!-- hist insets -->
<ellipse cx="1000" cy="293" rx="8" ry="14" fill="#f6cfc2" stroke="#d9765a" stroke-width="0.8"/>
<path d="M997,286h6M1000,286v14M997,300h6" stroke="#111" stroke-width="1.4" fill="none"/>
<text x="994" y="280" font-size="5.5" font-weight="bold" fill="#222">DS1</text>
<text x="1010" y="290" font-size="5.5" fill="#333">|+1/2⟩</text>
<text x="1010" y="304" font-size="5.5" fill="#333">|−1/2⟩</text>
<ellipse cx="998" cy="403" rx="11" ry="11" fill="#cfdcf5" stroke="#5d8fe3" stroke-width="0.8"/>
<ellipse cx="1021" cy="412" rx="12" ry="9" fill="#cfdcf5" stroke="#5d8fe3" stroke-width="0.8"/>
<path d="M995,396h6M998,396v14M995,410h6M1018,408h6M1021,408v8M1018,416h6M994,387h6" stroke="#111" stroke-width="1.3" fill="none"/>
<text x="983" y="390" font-size="5" fill="#333">|+1⟩</text>
<text x="983" y="397" font-size="5" fill="#333">|−1⟩</text>
<text x="983" y="410" font-size="5" fill="#333">|0⟩</text>
<text x="992" y="420" font-size="5" font-weight="bold" fill="#222">NV1</text>
<text x="1015" y="399" font-size="5" font-weight="bold" fill="#222">DS1</text>
<text x="1032" y="406" font-size="5" fill="#333">+1/2⟩</text>
<text x="1032" y="420" font-size="5" fill="#333">−1/2⟩</text>
</svg>
</body></html>
